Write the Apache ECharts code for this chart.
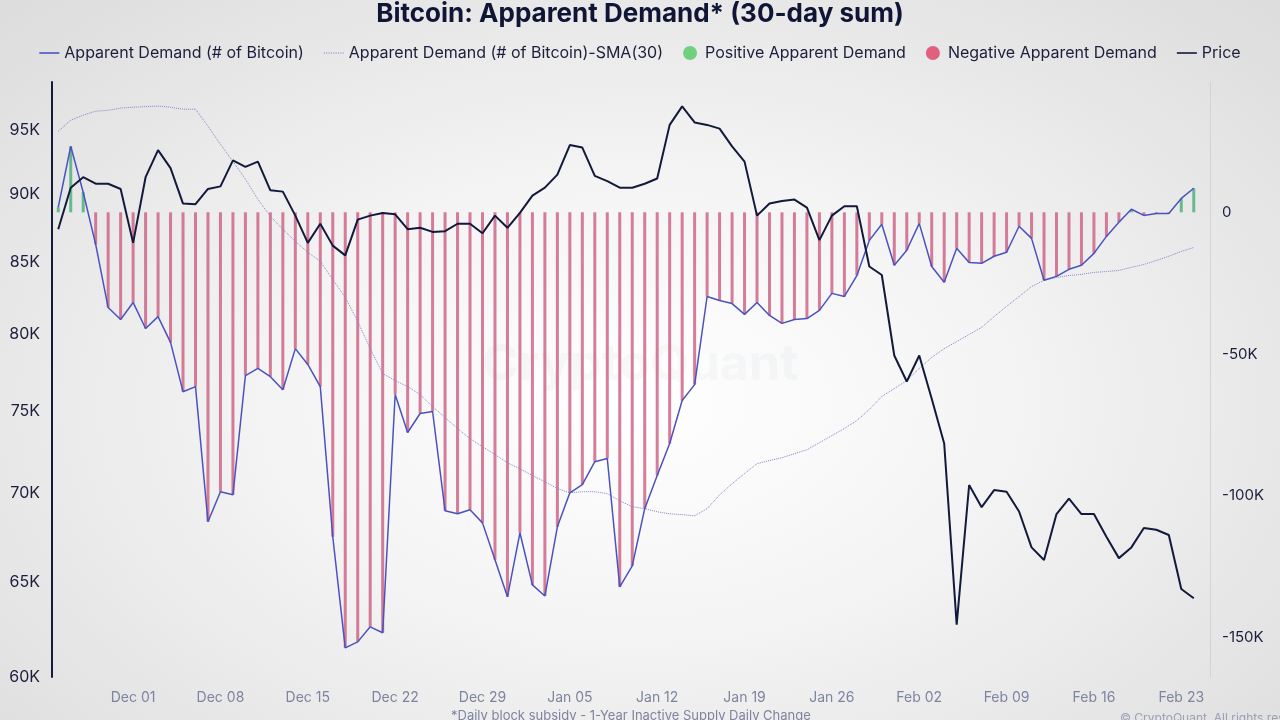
<!DOCTYPE html>
<html>
<head>
<meta charset="utf-8">
<title>Bitcoin: Apparent Demand (30-day sum)</title>
<script src="https://cdn.jsdelivr.net/npm/echarts@6/dist/echarts.min.js"></script>
<style>
html, body { margin: 0; padding: 0; }
#main {
    width: 1280px;
    height: 720px;
    background: radial-gradient(ellipse at 50% 56%, #ffffff 0%, #f4f4f4 40%, #dcdcdc 100%);
}
</style>
</head>
<body>
<div id="main"></div>
<script>
// daily points, Nov 25 2025 .. Feb 24 2026
var monthNames = ["Jan","Feb","Mar","Apr","May","Jun","Jul","Aug","Sep","Oct","Nov","Dec"];
var dates = [];
for (var d = new Date(2025, 10, 25); d <= new Date(2026, 1, 24); d.setDate(d.getDate() + 1)) {
    dates.push(monthNames[d.getMonth()] + " " + (d.getDate() < 10 ? "0" : "") + d.getDate());
}

// apparent demand, 30-day sum (# of BTC)
var demand = [1800, 23300, 7100, -11300, -33600, -37800, -31800, -41000, -36800, -45900,
    -63300, -61500, -109200, -98600, -99700, -57600, -55100, -58000, -62600, -48100,
    -53700, -61500, -114500, -153700, -151600, -146300, -148400, -64300, -77700, -71000,
    -70300, -105300, -106400, -105000, -109600, -122600, -135700, -113100, -131500, -135400,
    -111000, -99000, -96100, -88000, -86900, -132200, -124800, -104600, -92900, -81600,
    -66400, -60800, -29700, -31100, -32200, -36000, -31800, -36400, -39200, -37800,
    -37500, -34600, -28600, -29700, -22300, -9900, -4200, -18700, -13400, -3900,
    -19100, -24700, -12700, -17700, -18000, -15500, -14100, -4900, -9200, -24000,
    -22600, -20100, -18700, -14500, -8500, -3500, 1100, -1100, -400, -400,
    4900, 8500];

// 30-day SMA of apparent demand
var demandSma = [28600, 32500, 34300, 35700, 36000, 36800, 37100, 37300, 37500, 37100,
    36400, 36400, 30400, 24000, 18000, 11700, 4600, -1400, -6000, -10200,
    -14100, -17300, -23700, -30000, -38500, -48100, -56900, -59400, -61500, -64300,
    -68600, -72400, -76300, -79900, -82700, -85500, -88400, -90500, -92900, -95100,
    -97500, -99000, -98600, -98600, -99300, -101800, -103900, -104600, -105700, -106400,
    -106700, -107100, -104600, -99700, -95800, -92200, -88700, -87600, -86600, -85200,
    -83800, -81300, -78800, -76300, -73500, -69600, -65000, -62200, -59400, -55100,
    -51200, -48100, -45600, -43100, -40600, -36800, -33200, -29700, -26200, -24000,
    -23000, -22300, -21900, -21200, -20900, -20500, -19400, -18400, -17000, -15500,
    -13800, -12400];

// BTC price (USD)
var price = [87400, 90500, 91300, 90800, 90800, 90400, 86400, 91300, 93400, 92000,
    89300, 89250, 90400, 90600, 92600, 92100, 92500, 90300, 90200, 88400,
    86400, 87800, 86200, 85500, 88100, 88400, 88600, 88500, 87400, 87500,
    87200, 87250, 87800, 87800, 87100, 88400, 87500, 88600, 89900, 90500,
    91500, 93800, 93600, 91400, 91000, 90500, 90500, 90800, 91200, 95400,
    96900, 95600, 95400, 95100, 93700, 92500, 88400, 89300, 89500, 89600,
    89000, 86600, 88400, 89100, 89100, 84700, 84100, 78600, 76900, 78600,
    75800, 73000, 62700, 70500, 69200, 70200, 70100, 68950, 66900, 66200,
    68800, 69700, 68800, 68800, 67500, 66300, 66900, 68000, 67900, 67600,
    64600, 64100];

var priceTicks = [60000, 65000, 70000, 75000, 80000, 85000, 90000, 95000];
var demandTicks = [0, -50000, -100000, -150000];

var positive = demand.map(function (v) { return v > 0 ? v : null; });
var negative = demand.map(function (v) { return v < 0 ? v : null; });

// legend glyphs: a plain stroke and a dotted stroke
var solidIcon = "path://M0,0H20V1.6H0Z";
var dottedIcon = "path://M0,0h1.2v1h-1.2zM2.5,0h1.2v1h-1.2zM5,0h1.2v1h-1.2zM7.5,0h1.2v1h-1.2zM10,0h1.2v1h-1.2zM12.5,0h1.2v1h-1.2zM15,0h1.2v1h-1.2zM17.5,0h1.2v1h-1.2zM20,0h1.2v1h-1.2z";

var chart = echarts.init(document.getElementById("main"));
chart.setOption({
    backgroundColor: "transparent",
    animation: false,
    textStyle: { fontFamily: "Inter, 'Noto Sans', sans-serif" },
    title: {
        text: "Bitcoin: Apparent Demand* (30-day sum)",
        left: "center",
        top: -4,
        textStyle: { fontSize: 26, fontWeight: "bold", color: "#0f1535" }
    },
    legend: {
        top: 40,
        left: "center",
        itemGap: 20,
        itemWidth: 20,
        itemHeight: 14,
        textStyle: { fontSize: 16, color: "#1b1f3b" },
        data: [
            { name: "Apparent Demand (# of Bitcoin)", icon: solidIcon },
            { name: "Apparent Demand (# of Bitcoin)-SMA(30)", icon: dottedIcon },
            { name: "Positive Apparent Demand", icon: "circle", itemStyle: { color: "#72cf80" } },
            { name: "Negative Apparent Demand", icon: "circle", itemStyle: { color: "#e0607e" } },
            { name: "Price", icon: solidIcon }
        ]
    },
    graphic: [
        {
            type: "text", left: "center", top: 340, z: 0, silent: true,
            style: { text: "CryptoQuant", font: "bold 50px Inter", fill: "rgba(190,195,210,0.10)" }
        },
        {
            type: "text", left: 451, top: 710,
            style: { text: "*Daily block subsidy - 1-Year Inactive Supply Daily Change", font: "13px Inter", fill: "#7d849f" }
        },
        {
            type: "text", left: 1120, top: 712,
            style: { text: "\u00a9 CryptoQuant. All rights reserved.", font: "12px Inter", fill: "#9aa0b4" }
        }
    ],
    grid: { left: 52, right: 80, top: 82, bottom: 43 },
    xAxis: {
        type: "category",
        data: dates,
        boundaryGap: true,
        axisLine: { show: false },
        axisTick: { show: false },
        axisLabel: {
            interval: function (i) { return (i - 6) % 7 === 0; },
            color: "#7d849f",
            fontSize: 14,
            margin: 14
        }
    },
    yAxis: [
        {
            type: "log",
            min: 60000,
            max: 98900,
            position: "left",
            axisLine: { show: true, lineStyle: { color: "#151c3a", width: 2 } },
            axisTick: { show: false },
            splitLine: { show: false },
            axisLabel: {
                customValues: priceTicks,
                formatter: function (v) { return Math.round(v / 1000) + "K"; },
                fontSize: 16,
                color: "#1b1f3b",
                margin: 12
            }
        },
        {
            type: "value",
            min: -164000,
            max: 46000,
            position: "right",
            offset: 10,
            axisLine: { show: true, lineStyle: { color: "#d3d3d6", width: 1 } },
            axisTick: { show: false },
            splitLine: { show: false },
            axisLabel: {
                customValues: demandTicks,
                formatter: function (v) { return v === 0 ? "0" : Math.round(v / 1000) + "K"; },
                fontSize: 15,
                color: "#1b1f3b",
                margin: 12
            }
        }
    ],
    series: [
        {
            name: "Positive Apparent Demand",
            type: "bar",
            yAxisIndex: 1,
            barWidth: 3,
            barGap: "-100%",
            itemStyle: { color: "rgba(80,178,125,0.85)" },
            data: positive
        },
        {
            name: "Negative Apparent Demand",
            type: "bar",
            yAxisIndex: 1,
            barWidth: 3,
            barGap: "-100%",
            itemStyle: { color: "rgba(204,96,130,0.82)" },
            data: negative
        },
        {
            name: "Apparent Demand (# of Bitcoin)-SMA(30)",
            type: "line",
            yAxisIndex: 1,
            symbol: "none",
            lineStyle: { color: "#7d86c9", width: 1, type: "dotted" },
            itemStyle: { color: "#7d86c9" },
            data: demandSma
        },
        {
            name: "Apparent Demand (# of Bitcoin)",
            type: "line",
            yAxisIndex: 1,
            symbol: "none",
            lineStyle: { color: "#4a52c0", width: 1.5 },
            itemStyle: { color: "#4a52c0" },
            data: demand
        },
        {
            name: "Price",
            type: "line",
            yAxisIndex: 0,
            symbol: "none",
            lineStyle: { color: "#111a3a", width: 2 },
            itemStyle: { color: "#111a3a" },
            data: price
        }
    ]
});
</script>
</body>
</html>
